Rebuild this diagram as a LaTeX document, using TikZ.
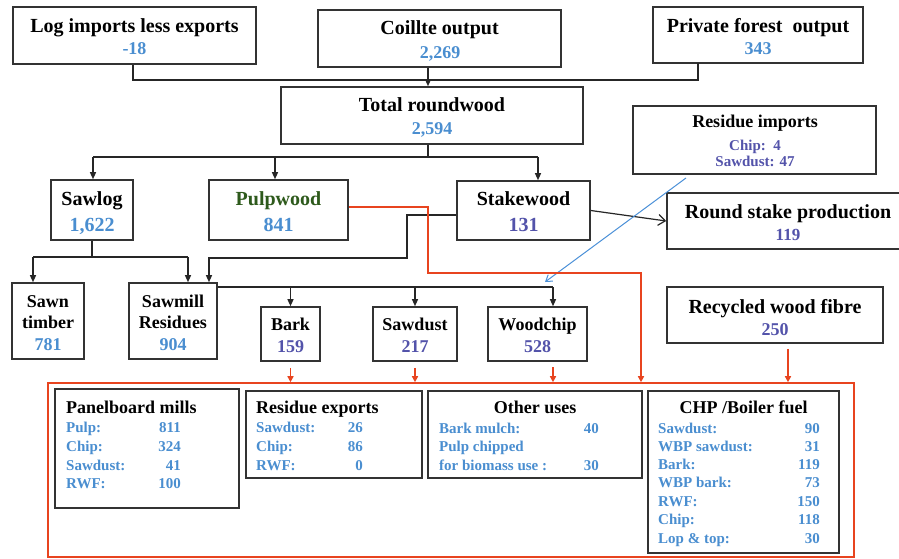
\documentclass[tikz,border=0pt]{standalone}
\usepackage{fontspec}
\setmainfont{Liberation Serif}
\usetikzlibrary{arrows.meta}
\definecolor{numblue}{HTML}{4A8ED0}
\definecolor{numpurple}{HTML}{5353AA}
\definecolor{pgreen}{HTML}{2E5A1C}
\definecolor{flowred}{HTML}{E8441F}
\definecolor{boxgray}{HTML}{333333}
\definecolor{arrowblue}{HTML}{4A90D8}
\tikzset{
  box/.style={draw=boxgray, line width=1.6pt, fill=white, inner sep=0pt},
  redframe/.style={draw=flowred, line width=1.6pt, inner sep=0pt},
  ttltxt/.style={font=\fontsize{20}{24}\selectfont\bfseries, inner sep=0pt, anchor=base},
  sttltxt/.style={font=\fontsize{18}{22}\selectfont\bfseries, inner sep=0pt, anchor=base},
  numtxt/.style={font=\fontsize{18}{22}\selectfont\bfseries, text=numblue, inner sep=0pt, anchor=base},
  pnumtxt/.style={font=\fontsize{18}{22}\selectfont\bfseries, text=numpurple, inner sep=0pt, anchor=base},
  itmtxt/.style={font=\fontsize{15}{18}\selectfont\bfseries, text=numblue, inner sep=0pt},
  conn/.style={draw=black!85, line width=1.2pt},
  arr/.style={conn, -{Triangle[length=7pt,width=6pt]}},
  rconn/.style={draw=flowred, line width=1.6pt},
  rarr/.style={rconn, -{Triangle[length=6pt,width=6pt]}},
  barrow/.style={draw=arrowblue, line width=1pt, -{Straight Barb[length=6pt,width=8pt]}},
  stakearr/.style={conn, -{Straight Barb[length=7pt,width=11pt]}},
}
\newcommand\rowitem[6]{%
  \node[itmtxt,anchor=base west] (#1a) at (#2,#4) {#5};
  \node[itmtxt,anchor=base east] (#1b) at (#3,#4) {#6};}
\begin{document}
\begin{tikzpicture}[x=1pt,y=-1pt]
\clip (0,0) rectangle (899,559);
\fill[white] (0,0) rectangle (899,559);

% ---------- top row ----------
\node[box, minimum width=243pt, minimum height=57pt] (logimp) at (134.5,35.5) {};
\node[ttltxt] (logimpT) at (134.5,33) {Log imports less exports};
\node[numtxt] (logimpN) at (134.5,55) {-18};

\node[box, minimum width=243pt, minimum height=57pt] (coillte) at (439.5,38.5) {};
\node[ttltxt] (coillteT) at (439.5,35) {Coillte output};
\node[numtxt] (coillteN) at (440,59) {2,269};

\node[box, minimum width=210pt, minimum height=56pt] (private) at (758,35) {};
\node[ttltxt] (privateT) at (758,33) {Private forest\ \ output};
\node[numtxt] (privateN) at (758,55) {343};

\node[box, minimum width=302pt, minimum height=57pt] (total) at (432,115.5) {};
\node[ttltxt] (totalT) at (432,112) {Total roundwood};
\node[numtxt] (totalN) at (432,135) {2,594};

\node[box, minimum width=243pt, minimum height=68pt] (resimp) at (754.5,140) {};
\node[sttltxt] (resimpT) at (755,128) {Residue imports};
\node[itmtxt,anchor=base,text=numpurple] (resimpA) at (755,150) {Chip:\ \ 4};
\node[itmtxt,anchor=base,text=numpurple] (resimpB) at (755,166) {Sawdust: 47};

% ---------- second row ----------
\node[box, minimum width=82pt, minimum height=60pt] (sawlog) at (92,210) {};
\node[ttltxt] (sawlogT) at (92,205) {Sawlog};
\node[numtxt,font=\fontsize{20}{24}\selectfont\bfseries] (sawlogN) at (92,231) {1,622};

\node[box, minimum width=139pt, minimum height=60pt] (pulp) at (278.5,210) {};
\node[ttltxt,text=pgreen] (pulpT) at (278.5,205) {Pulpwood};
\node[numtxt,font=\fontsize{20}{24}\selectfont\bfseries] (pulpN) at (278.5,231) {841};

\node[box, minimum width=133pt, minimum height=59pt] (stake) at (523.5,210.5) {};
\node[ttltxt] (stakeT) at (523.5,205) {Stakewood};
\node[pnumtxt,font=\fontsize{20}{24}\selectfont\bfseries] (stakeN) at (523.5,231) {131};

\node[box, minimum width=242pt, minimum height=56pt] (round) at (788,221) {};
\node[ttltxt] (roundT) at (788,218) {Round stake production};
\node[pnumtxt,font=\fontsize{17}{22}\selectfont\bfseries] (roundN) at (788,240) {119};

% ---------- third row ----------
\node[box, minimum width=72pt, minimum height=76pt] (sawn) at (48,321) {};
\node[sttltxt] (sawnA) at (48,307) {Sawn};
\node[sttltxt] (sawnB) at (48,328) {timber};
\node[numtxt] (sawnN) at (48,350) {781};

\node[box, minimum width=88pt, minimum height=76pt] (sawmill) at (173,321) {};
\node[sttltxt] (sawmillA) at (173,307) {Sawmill};
\node[sttltxt] (sawmillB) at (173,328) {Residues};
\node[numtxt] (sawmillN) at (173,350) {904};

\node[box, minimum width=59pt, minimum height=54pt] (bark) at (290.5,334) {};
\node[sttltxt] (barkT) at (290.5,330) {Bark};
\node[pnumtxt] (barkN) at (290.5,352) {159};

\node[box, minimum width=84pt, minimum height=54pt] (sawdust) at (415,334) {};
\node[sttltxt] (sawdustT) at (415,330) {Sawdust};
\node[pnumtxt] (sawdustN) at (415,352) {217};

\node[box, minimum width=99pt, minimum height=54pt] (woodchip) at (537.5,334) {};
\node[sttltxt] (woodchipT) at (537.5,330) {Woodchip};
\node[pnumtxt] (woodchipN) at (537.5,352) {528};

\node[box, minimum width=216pt, minimum height=56pt] (recyc) at (775,315) {};
\node[ttltxt] (recycT) at (775,313) {Recycled wood fibre};
\node[pnumtxt] (recycN) at (775,335) {250};

% ---------- end uses ----------
\node[redframe, minimum width=806pt, minimum height=174pt] (uses) at (451,470) {};

\node[box, minimum width=184pt, minimum height=119pt] (panel) at (147,448.5) {};
\node[sttltxt,anchor=base west] (panelT) at (66,413) {Panelboard mills};
\rowitem{pa}{66}{181}{432}{Pulp:}{811}
\rowitem{pb}{66}{181}{451}{Chip:}{324}
\rowitem{pc}{66}{181}{470}{Sawdust:}{41}
\rowitem{pd}{66}{181}{488}{RWF:}{100}

\node[box, minimum width=176pt, minimum height=87pt] (resexp) at (334,434.5) {};
\node[sttltxt,anchor=base west] (resexpT) at (256,413) {Residue exports};
\rowitem{ra}{256}{363}{432}{Sawdust:}{26}
\rowitem{rb}{256}{363}{451}{Chip:}{86}
\rowitem{rc}{256}{363}{470}{RWF:}{0}

\node[box, minimum width=214pt, minimum height=87pt] (other) at (535,434.5) {};
\node[sttltxt] (otherT) at (535,413) {Other uses};
\rowitem{oa}{439}{599}{433}{Bark mulch:}{40}
\node[itmtxt,anchor=base west] (ob) at (439,451) {Pulp chipped};
\rowitem{oc}{439}{599}{470}{for biomass use :}{30}

\node[box, minimum width=191pt, minimum height=162pt] (chp) at (743.5,472) {};
\node[sttltxt] (chpT) at (743.5,413) {CHP /Boiler fuel};
\rowitem{ca}{658}{820}{433}{Sawdust:}{90}
\rowitem{cb}{658}{820}{451.3}{WBP sawdust:}{31}
\rowitem{cc}{658}{820}{469.6}{Bark:}{119}
\rowitem{cd}{658}{820}{487.9}{WBP bark:}{73}
\rowitem{ce}{658}{820}{506.2}{RWF:}{150}
\rowitem{cf}{658}{820}{524.5}{Chip:}{118}
\rowitem{cg}{658}{820}{543}{Lop \& top:}{30}

% ---------- connectors ----------
\coordinate (privleg) at (698,63);
\draw[conn] (logimp.south -| 133,0) |- (698,80) -- (privleg);
\coordinate (cx) at (428,0);
\draw[arr] (coillte.south -| cx) -- (total.north -| cx);
\draw[conn] (total.south -| cx) -- (428,157);
\draw[conn] (93,157) -- (538,157);
\draw[arr] (93,157) -- (sawlog.north -| 93,0);
\draw[arr] (275,157) -- (pulp.north -| 275,0);
\draw[arr] (538,157) -- (stake.north -| 538,0);

\draw[conn] (sawlog.south) -- (92,257);
\draw[conn] (33,257) -- (188,257);
\draw[arr] (33,257) -- (sawn.north -| 33,0);
\draw[arr] (188,257) -- (sawmill.north -| 188,0);

\draw[arr] (stake.west |- 0,215) -| (407,258) -| (sawmill.north -| 209,0);

\draw[conn] (sawmill.east |- 0,287) -- (553,287);
\draw[arr] (290.5,287) -- (bark.north);
\draw[arr] (415,287) -- (sawdust.north);
\draw[arr] (553,287) -- (woodchip.north -| 553,0);

\draw[stakearr] (stake.east) -- (round.west);

\coordinate (bluestart) at (686,178);
\coordinate (bluetip) at (545,282);
\draw[barrow] (bluestart) -- (bluetip);

\draw[rarr] (pulp.east |- 0,207) -| (428,273) -| (uses.north -| 641,0);
\draw[rarr] ([yshift=-6pt]bark.south) -- (uses.north -| bark.south);
\draw[rarr] ([yshift=-6pt]sawdust.south) -- (uses.north -| sawdust.south);
\draw[rarr] (553,367) -- (uses.north -| 553,0);
\draw[rarr] ([yshift=-5pt]recyc.south -| 788,0) -- (uses.north -| 788,0);
\end{tikzpicture}
\end{document}
